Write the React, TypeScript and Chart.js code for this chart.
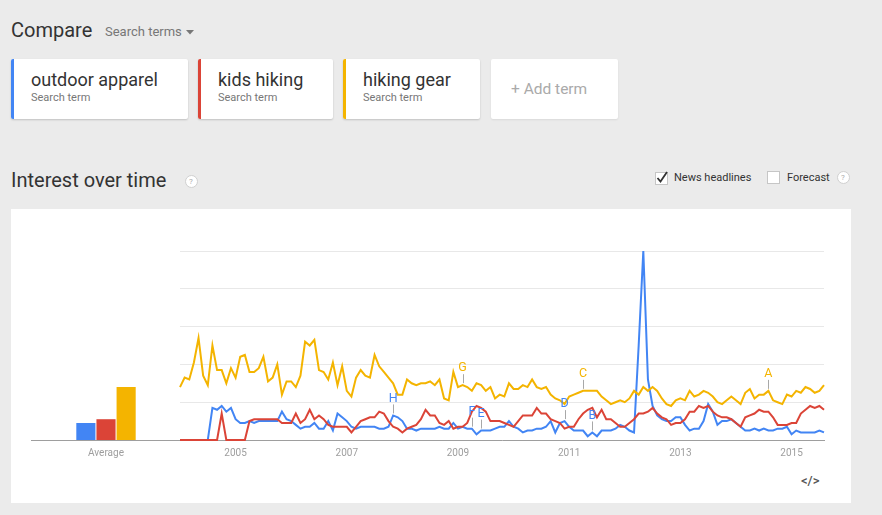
import React, { useEffect, useRef } from "react";
import { Chart, registerables } from "chart.js";

Chart.register(...registerables);
Chart.defaults.font.family = "Roboto";

// ---------- data ----------
const START_YEAR = 2004;
const MONTH_COUNT = 140; // Jan 2004 .. Aug 2015
const MONTHS: string[] = Array.from({ length: MONTH_COUNT }, (_, i) =>
  `${START_YEAR + Math.floor(i / 12)}-${String((i % 12) + 1).padStart(2, "0")}`
);
const YEAR_TICKS = ["2005", "2007", "2009", "2011", "2013", "2015"];

const TERMS = ["outdoor apparel", "kids hiking", "hiking gear"];
const COLORS = ["#4285f4", "#db4437", "#f4b400"];
const AVERAGES = [9, 11, 28];

const outdoorApparel = [
  0, 0, 0, 0, 0, 0, 0, 17, 16, 18, 15, 17, 11, 9, 9, 10, 9, 10, 10, 10,
  10, 10, 15, 11, 10, 8, 6, 7, 7, 9, 6, 6, 10, 5, 14, 12, 10, 7, 6, 7,
  7, 7, 7, 6, 6, 7, 13, 12, 10, 6, 6, 5, 6, 6, 6, 6, 7, 6, 6, 9,
  6, 7, 6, 6, 3, 5, 5, 5, 6, 7, 7, 10, 7, 6, 4, 5, 5, 6, 6, 7,
  10, 4, 9, 10, 7, 5, 5, 5, 2, 4, 2, 5, 5, 5, 6, 8, 7, 5, 4, 50,
  100, 32, 18, 13, 11, 10, 10, 12, 12, 8, 5, 6, 6, 10, 19, 15, 8, 10, 10, 11,
  9, 7, 5, 5, 6, 5, 6, 5, 5, 6, 6, 7, 3, 5, 4, 4, 4, 4, 5, 4,
];

const kidsHiking = [
  0, 0, 0, 0, 0, 0, 0, 0, 0, 14, 0, 0, 0, 0, 0, 10, 11, 11, 11, 11,
  11, 11, 9, 9, 9, 14, 9, 11, 16, 11, 13, 11, 8, 7, 7, 7, 7, 4, 7, 10,
  11, 12, 12, 15, 14, 10, 7, 6, 4, 6, 7, 8, 11, 16, 13, 13, 9, 8, 10, 6,
  7, 7, 9, 15, 18, 17, 15, 10, 10, 10, 9, 8, 7, 10, 13, 13, 13, 17, 14, 14,
  11, 10, 9, 6, 7, 7, 11, 14, 16, 17, 12, 16, 11, 11, 9, 7, 7, 9, 11, 14,
  14, 15, 17, 14, 12, 11, 8, 9, 9, 11, 15, 15, 18, 17, 18, 15, 13, 12, 12, 11,
  9, 7, 12, 13, 14, 16, 15, 15, 12, 8, 8, 8, 9, 9, 14, 16, 18, 17, 18, 16,
];

const hikingGear = [
  28, 33, 32, 41, 54, 34, 29, 50, 37, 37, 30, 38, 33, 44, 45, 36, 36, 38, 44, 31,
  33, 40, 24, 31, 31, 28, 34, 52, 50, 53, 37, 36, 32, 41, 29, 39, 26, 23, 33, 37,
  34, 33, 45, 39, 36, 33, 30, 24, 24, 32, 30, 29, 30, 30, 31, 29, 32, 22, 21, 36,
  28, 29, 28, 26, 30, 29, 26, 28, 22, 24, 23, 30, 27, 27, 29, 28, 32, 28, 27, 28,
  24, 22, 21, 19, 23, 24, 25, 26, 26, 26, 26, 23, 21, 19, 20, 21, 20, 22, 26, 24,
  28, 26, 28, 26, 22, 19, 18, 21, 22, 21, 26, 23, 24, 26, 25, 23, 20, 19, 21, 23,
  21, 19, 25, 27, 22, 24, 24, 26, 21, 20, 19, 24, 23, 26, 25, 28, 27, 25, 26, 29,
];

const SERIES = [outdoorApparel, kidsHiking, hikingGear];

// news headline markers: letter, month, series index
const NEWS_LETTERS = ["H", "G", "F", "E", "D", "C", "B", "A"];
const NEWS_MONTHS = ["2007-11", "2009-02", "2009-04", "2009-06", "2010-12", "2011-04", "2011-06", "2014-08"];
const NEWS_SERIES = [0, 2, 0, 0, 0, 2, 0, 2];

// ---------- charts ----------
const newsPlugin = {
  id: "newsMarkers",
  afterDatasetsDraw(chart: any) {
    const ctx = chart.ctx;
    ctx.save();
    NEWS_LETTERS.forEach((letter, k) => {
      const idx = MONTHS.indexOf(NEWS_MONTHS[k]);
      const meta = chart.getDatasetMeta(NEWS_SERIES[k]);
      const pt = meta.data[idx];
      if (!pt) return;
      const x = pt.x;
      const y = pt.y;
      ctx.strokeStyle = "#a8a8a8";
      ctx.lineWidth = 1;
      ctx.beginPath();
      ctx.moveTo(Math.round(x) + 0.5, y - 2);
      ctx.lineTo(Math.round(x) + 0.5, y - 11);
      ctx.stroke();
      ctx.fillStyle = COLORS[NEWS_SERIES[k]];
      ctx.font = "12.5px Roboto";
      ctx.textAlign = "center";
      ctx.textBaseline = "middle";
      ctx.fillText(letter, x, y - 17);
    });
    ctx.restore();
  },
};

function LineChart() {
  const ref = useRef<HTMLCanvasElement>(null);
  useEffect(() => {
    const chart = new Chart(ref.current!, {
      type: "line",
      data: {
        labels: MONTHS,
        datasets: SERIES.map((s, i) => ({
          label: TERMS[i],
          data: s,
          borderColor: COLORS[i],
          backgroundColor: COLORS[i],
          borderWidth: 2,
          pointRadius: 0,
          tension: 0,
          clip: 4,
          order: 2 - i,
        })),
      },
      options: {
        animation: false,
        responsive: false,
        maintainAspectRatio: false,
        layout: { padding: { left: 10, right: 16, top: 21, bottom: 0 } },
        plugins: { legend: { display: false }, tooltip: { enabled: false } },
        scales: {
          x: {
            grid: { display: false, drawTicks: false },
            border: { display: true, color: "#9e9e9e", width: 1 },
            afterFit: (s: any) => {
              s.height = 30;
            },
            ticks: {
              autoSkip: false,
              maxRotation: 0,
              padding: 7,
              color: "#9e9e9e",
              font: { size: 10 },
              callback: (_v: any, idx: number) => {
                const [yy, mm] = MONTHS[idx].split("-");
                return mm === "01" && YEAR_TICKS.includes(yy) ? yy : null;
              },
            },
          },
          y: {
            min: 0,
            max: 100,
            afterFit: (s: any) => {
              s.width = 0;
            },
            ticks: { display: false, stepSize: 20 },
            grid: { color: "#e8e8e8", drawTicks: false, lineWidth: 1 },
            border: { display: false },
          },
        },
      },
      plugins: [newsPlugin],
    });
    return () => chart.destroy();
  }, []);
  return (
    <canvas
      ref={ref}
      width={670}
      height={240}
      style={{ position: "absolute", left: 170, top: 230, width: 670, height: 240 }}
    />
  );
}

function AverageChart() {
  const ref = useRef<HTMLCanvasElement>(null);
  useEffect(() => {
    const chart = new Chart(ref.current!, {
      type: "bar",
      data: {
        labels: ["Average"],
        datasets: TERMS.map((t, i) => ({
          label: t,
          data: [AVERAGES[i]],
          backgroundColor: COLORS[i],
          borderWidth: 0,
          categoryPercentage: 60 / 149,
          barPercentage: 0.95,
        })),
      },
      options: {
        animation: false,
        responsive: false,
        maintainAspectRatio: false,
        layout: { padding: { left: 10, right: 0, top: 21, bottom: 0 } },
        plugins: { legend: { display: false }, tooltip: { enabled: false } },
        scales: {
          x: {
            grid: { display: false, drawTicks: false },
            border: { display: true, color: "#9e9e9e", width: 1 },
            afterFit: (s: any) => {
              s.height = 30;
            },
            ticks: { padding: 7, color: "#9e9e9e", font: { size: 10 } },
          },
          y: { display: false, min: 0, max: 100 },
        },
      },
    });
    return () => chart.destroy();
  }, []);
  return (
    <canvas
      ref={ref}
      width={160}
      height={240}
      style={{ position: "absolute", left: 21, top: 230, width: 160, height: 240 }}
    />
  );
}

// ---------- page ----------
const txt = (
  left: number,
  top: number,
  size: number,
  color: string,
  extra: React.CSSProperties = {}
): React.CSSProperties => ({
  position: "absolute",
  left,
  top,
  fontSize: size,
  lineHeight: `${size}px`,
  color,
  whiteSpace: "nowrap",
  ...extra,
});

function Card({ left, width, color, title }: { left: number; width: number; color: string; title: string }) {
  return (
    <div
      style={{
        position: "absolute",
        left,
        top: 59,
        width,
        height: 60,
        background: "#fff",
        boxShadow: "0 1px 2px rgba(0,0,0,0.18)",
        borderRadius: 2,
        overflow: "hidden",
      }}
    >
      <div style={{ position: "absolute", left: 0, top: 0, width: 3, height: 60, background: color }} />
      <div style={txt(20, 12.3, 18, "#333")}>{title}</div>
      <div style={txt(20, 32.7, 11, "#777")}>Search term</div>
    </div>
  );
}

function Help({ x, y }: { x: number; y: number }) {
  return (
    <div
      style={{
        position: "absolute",
        left: x - 6.5,
        top: y - 6.5,
        width: 11,
        height: 11,
        borderRadius: "50%",
        border: "1px solid #d0d0d0",
        background: "#fff",
        color: "#aaa",
        fontSize: 8,
        lineHeight: "11px",
        textAlign: "center",
      }}
    >
      ?
    </div>
  );
}

export default function App() {
  return (
    <div
      style={{
        position: "fixed",
        left: 0,
        top: 0,
        width: 882,
        height: 515,
        background: "#ebebeb",
        fontFamily: "Roboto, sans-serif",
        overflow: "hidden",
      }}
    >
      <div style={txt(11, 20, 20, "#333")}>Compare</div>
      <div style={txt(105, 24.7, 13, "#777")}>Search terms</div>
      <svg style={{ position: "absolute", left: 186, top: 30 }} width={8} height={5}>
        <path d="M0 0 L8 0 L4 4.5 Z" fill="#777" />
      </svg>

      <Card left={11} width={177} color={COLORS[0]} title={TERMS[0]} />
      <Card left={198} width={135} color={COLORS[1]} title={TERMS[1]} />
      <Card left={343} width={137} color={COLORS[2]} title={TERMS[2]} />
      <div
        style={{
          position: "absolute",
          left: 491,
          top: 59,
          width: 127,
          height: 60,
          background: "#fff",
          borderRadius: 2,
          boxShadow: "0 1px 2px rgba(0,0,0,0.08)",
        }}
      >
        <div style={txt(20, 22.5, 15.5, "#aaa")}>+ Add term</div>
      </div>

      <div style={txt(11, 170.3, 20, "#333")}>Interest over time</div>
      <Help x={191} y={181} />

      <svg style={{ position: "absolute", left: 654, top: 170 }} width={16} height={15}>
        <rect x={1.5} y={2.5} width={12} height={12} fill="#fff" stroke="#c6c6c6" />
        <path d="M3.5 8 L6.5 11.5 L13 2" fill="none" stroke="#333" strokeWidth={1.8} />
      </svg>
      <div style={txt(674, 171.7, 11, "#333")}>News headlines</div>
      <svg style={{ position: "absolute", left: 766, top: 170 }} width={16} height={15}>
        <rect x={1.5} y={1.5} width={12} height={12} fill="#fff" stroke="#c6c6c6" />
      </svg>
      <div style={txt(787, 171.7, 11, "#333")}>Forecast</div>
      <Help x={843} y={177} />

      <div style={{ position: "absolute", left: 11, top: 209, width: 840, height: 294, background: "#fff" }} />
      <AverageChart />
      <LineChart />
      <div style={txt(801, 474, 13, "#555", { fontWeight: 500 })}>&lt;/&gt;</div>
    </div>
  );
}
